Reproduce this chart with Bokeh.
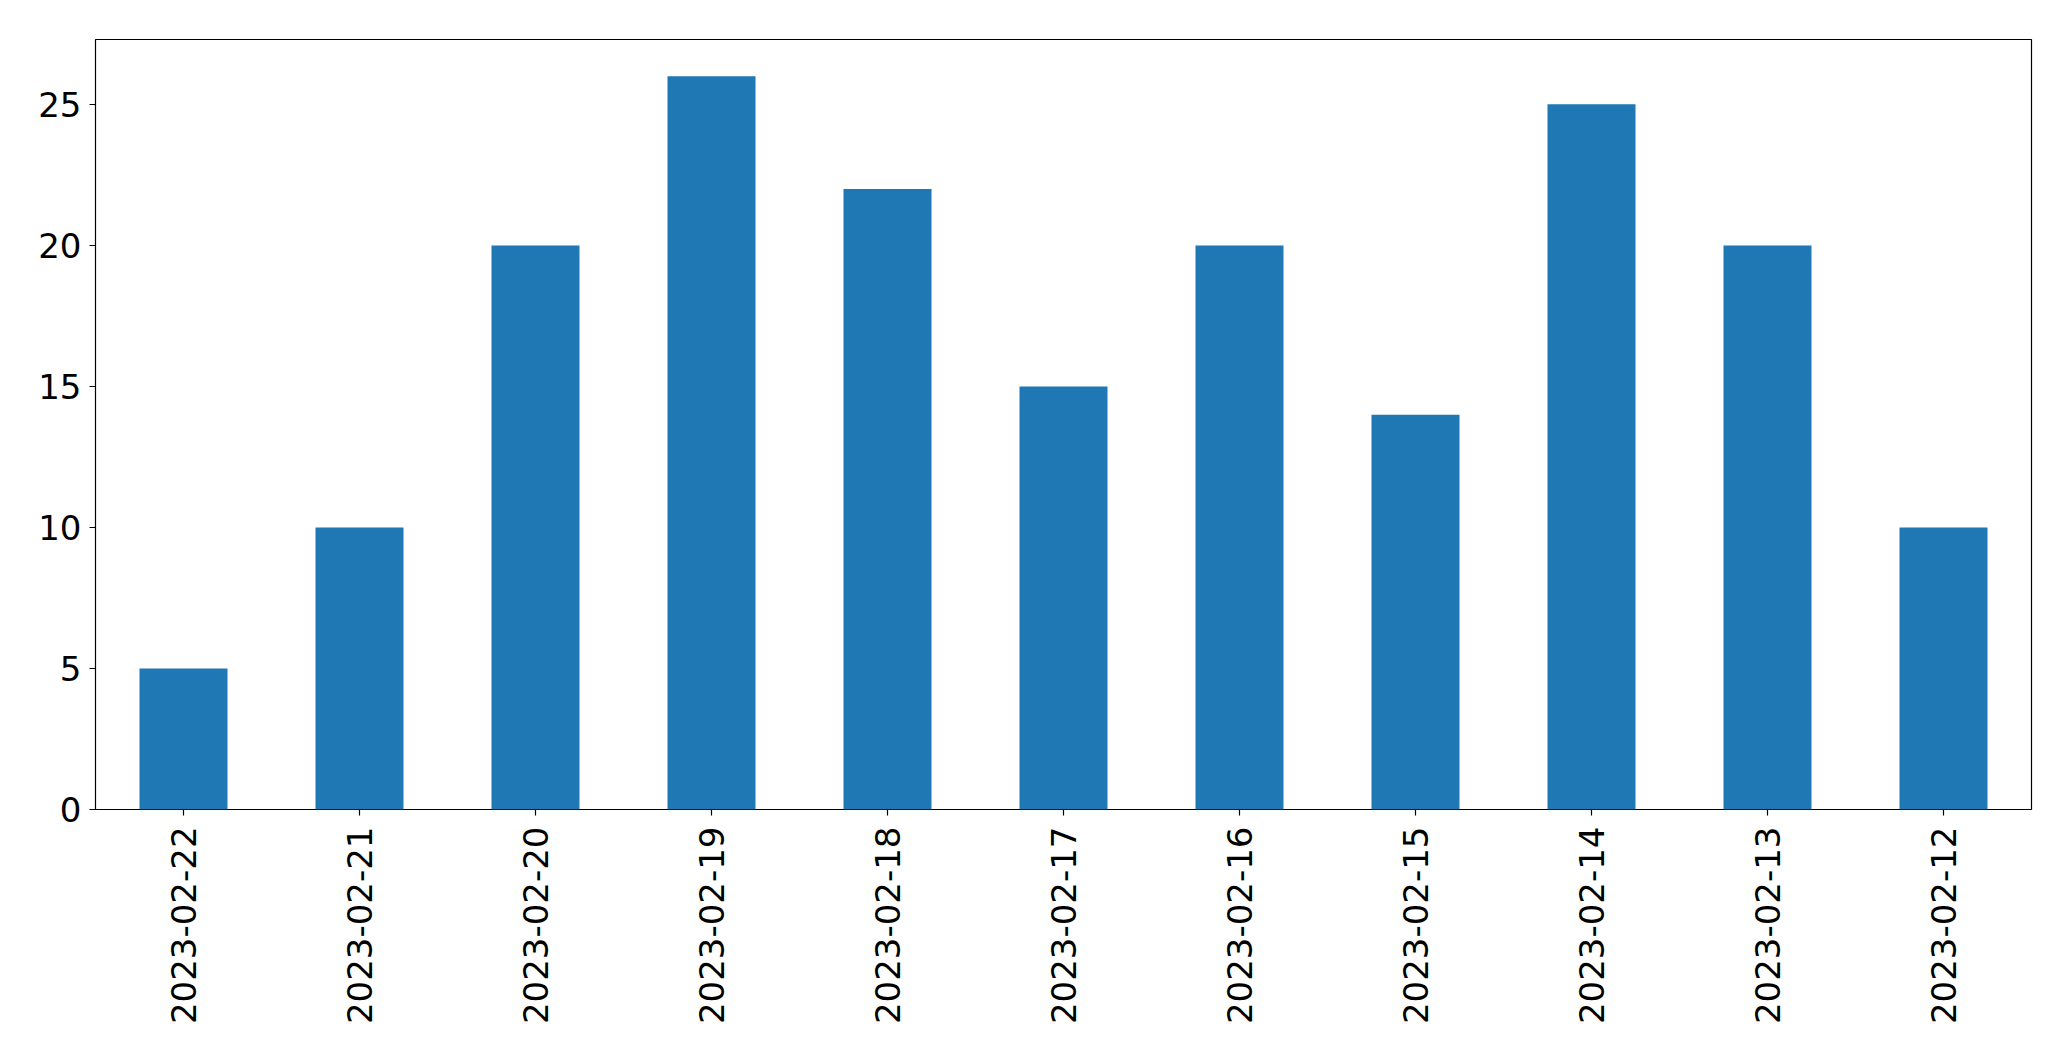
import math
from bokeh.plotting import figure
from bokeh.models import FactorRange, Range1d, FixedTicker
from bokeh.embed import file_html
from bokeh.resources import INLINE

dates = ["2023-02-22", "2023-02-21", "2023-02-20", "2023-02-19", "2023-02-18",
         "2023-02-17", "2023-02-16", "2023-02-15", "2023-02-14", "2023-02-13",
         "2023-02-12"]
counts = [5, 10, 20, 26, 22, 15, 20, 14, 25, 20, 10]
y_ticks = [0, 5, 10, 15, 20, 25]

p = figure(x_range=FactorRange(factors=dates, range_padding=0),
           y_range=Range1d(0, max(counts) * 1.05),
           width=2063, height=1053, output_backend="svg", toolbar_location=None,
           min_border_left=95, min_border_right=32, min_border_top=39, min_border_bottom=244)

p.vbar(x=dates, top=counts, width=0.5, fill_color="#1f77b4", line_color=None)

p.xgrid.visible = False
p.ygrid.visible = False
p.outline_line_color = "black"
p.outline_line_width = 1.2
p.outline_line_alpha = 1

for ax in (p.xaxis[0], p.yaxis[0]):
    ax.axis_line_color = None
    ax.major_tick_out = 6
    ax.major_tick_in = 0
    ax.major_tick_line_color = "black"
    ax.major_tick_line_width = 1.2
    ax.minor_tick_line_color = None
    ax.major_label_text_font = "DejaVu Sans"
    ax.major_label_text_font_size = "34px"
    ax.major_label_text_color = "black"

p.yaxis[0].ticker = FixedTicker(ticks=y_ticks)
p.yaxis[0].major_label_standoff = 8
p.xaxis[0].major_label_orientation = math.pi / 2
p.xaxis[0].major_label_standoff = 11

open("out.html", "w").write(file_html(p, INLINE))
